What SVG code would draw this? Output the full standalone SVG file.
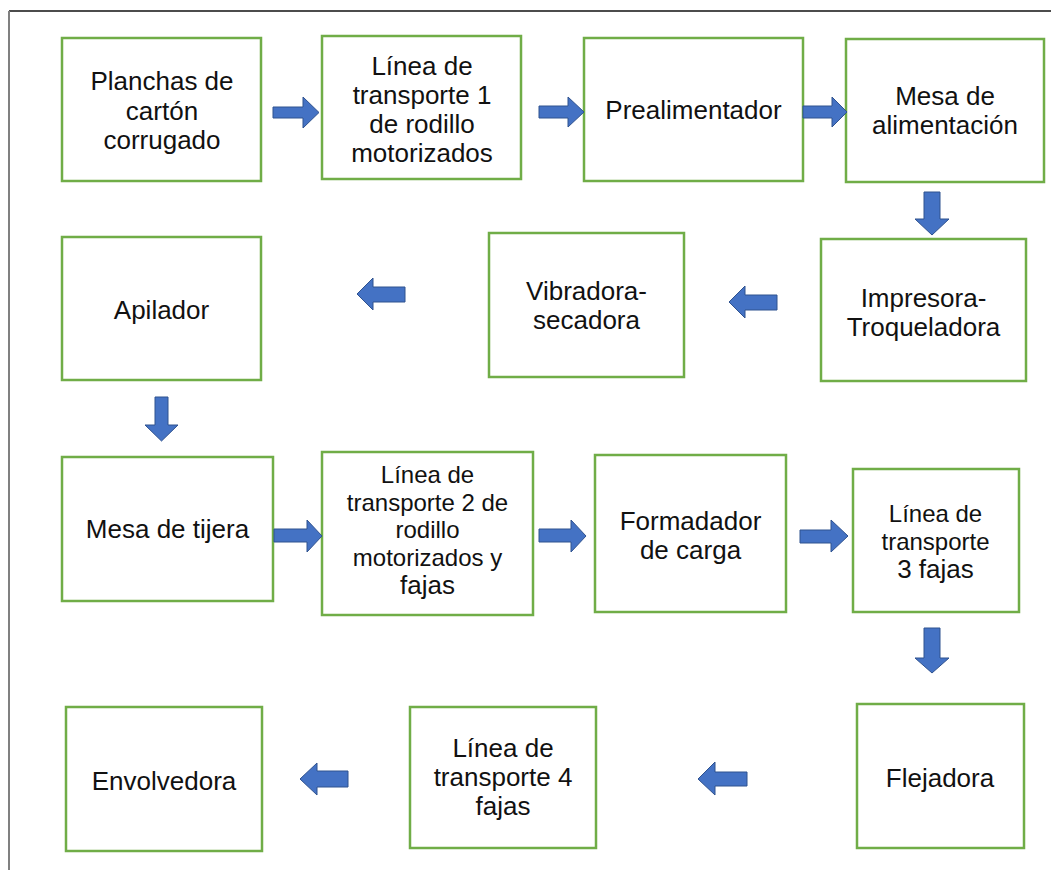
<svg xmlns="http://www.w3.org/2000/svg" width="1051" height="870" viewBox="0 0 1051 870">
<style>
.box{fill:#fff;stroke:#70AD47;stroke-width:2.5}
.t{font-family:"Liberation Sans",Arial,sans-serif;font-size:26px;fill:#111;text-anchor:middle}
.s{font-size:24px}
.arr{fill:#4472C4;stroke:#2F528F;stroke-width:1}
</style>
<rect x="0" y="0" width="1051" height="870" fill="#fff"/>
<line x1="9" y1="11" x2="1051" y2="11" stroke="#111" stroke-width="1.5"/>
<line x1="9" y1="11" x2="9" y2="870" stroke="#808080" stroke-width="2"/>

<g id="n1"><rect class="box" x="62" y="38" width="199" height="143"/>
<text class="t" x="162" y="90">Planchas de</text><text class="t" x="162" y="119.5">cartón</text><text class="t" x="162" y="149">corrugado</text></g>
<g id="n2"><rect class="box" x="322" y="36" width="199" height="143"/>
<text class="t" x="422" y="75">Línea de</text><text class="t" x="422" y="104">transporte 1</text><text class="t" x="422" y="133">de rodillo</text><text class="t" x="422" y="162">motorizados</text></g>
<g id="n3"><rect class="box" x="584" y="38" width="219" height="143"/>
<text class="t" x="693.5" y="118.5">Prealimentador</text></g>
<g id="n4"><rect class="box" x="846" y="39" width="198" height="143"/>
<text class="t" x="945" y="105">Mesa de</text><text class="t" x="945" y="134">alimentación</text></g>
<g id="n5"><rect class="box" x="821" y="239" width="205" height="142"/>
<text class="t" x="923.5" y="307">Impresora-</text><text class="t" x="923.5" y="336">Troqueladora</text></g>
<g id="n6"><rect class="box" x="489" y="233" width="195" height="144"/>
<text class="t" x="586.5" y="300">Vibradora-</text><text class="t" x="586.5" y="329">secadora</text></g>
<g id="n7"><rect class="box" x="62" y="237" width="199" height="143"/>
<text class="t" x="161.5" y="319">Apilador</text></g>
<g id="n8"><rect class="box" x="62" y="457" width="211" height="144"/>
<text class="t" x="167.5" y="538">Mesa de tijera</text></g>
<g id="n9"><rect class="box" x="322" y="452" width="211" height="163"/>
<text class="t s" x="427.5" y="483">Línea de</text><text class="t s" x="427.5" y="510.5">transporte 2 de</text><text class="t s" x="427.5" y="538">rodillo</text><text class="t s" x="427.5" y="565.5">motorizados y</text><text class="t" x="427.5" y="594">fajas</text></g>
<g id="n10"><rect class="box" x="595" y="455" width="191" height="157"/>
<text class="t" x="690.5" y="530">Formadador</text><text class="t" x="690.5" y="559">de carga</text></g>
<g id="n11"><rect class="box" x="853" y="469" width="166" height="143"/>
<text class="t s" x="935.5" y="522">Línea de</text><text class="t s" x="935.5" y="550">transporte</text><text class="t" x="935.5" y="578">3 fajas</text></g>
<g id="n12"><rect class="box" x="857" y="704" width="167" height="144"/>
<text class="t" x="940" y="787">Flejadora</text></g>
<g id="n13"><rect class="box" x="410" y="707" width="186" height="141"/>
<text class="t" x="503" y="757">Línea de</text><text class="t" x="503" y="786">transporte 4</text><text class="t" x="503" y="815">fajas</text></g>
<g id="n14"><rect class="box" x="66" y="707" width="196" height="144"/>
<text class="t" x="164" y="790">Envolvedora</text></g>

<g id="connectors">
<polygon class="arr" points="273,107 303,107 303,97 319,112.5 303,128 303,118 273,118"/>
<polygon class="arr" points="539,106 568,106 568,97 584,112 568,127 568,118 539,118"/>
<polygon class="arr" points="803,106 832,106 832,97 847,112 832,127 832,118 803,118"/>
<polygon class="arr" points="924,192 940,192 940,219 949,219 932,235 915,219 924,219"/>
<polygon class="arr" points="777,295 745,295 745,286 729,302 745,318 745,310 777,310"/>
<polygon class="arr" points="405,287 373,287 373,278 357,294 373,310 373,302 405,302"/>
<polygon class="arr" points="155,397 168,397 168,425 178,425 161.5,441 145,425 155,425"/>
<polygon class="arr" points="274,529 307,529 307,520 322,536 307,552 307,542 274,542"/>
<polygon class="arr" points="539,529 571,529 571,520 586,536 571,552 571,542 539,542"/>
<polygon class="arr" points="800,530 831,530 831,520 848,536 831,552 831,543 800,543"/>
<polygon class="arr" points="924,628 940,628 940,658 949,658 932,673 915,658 924,658"/>
<polygon class="arr" points="747,772 715,772 715,762 698,779 715,795 715,786 747,786"/>
<polygon class="arr" points="348,771 317,771 317,763 300,779 317,795 317,787 348,787"/>
</g>
</svg>
